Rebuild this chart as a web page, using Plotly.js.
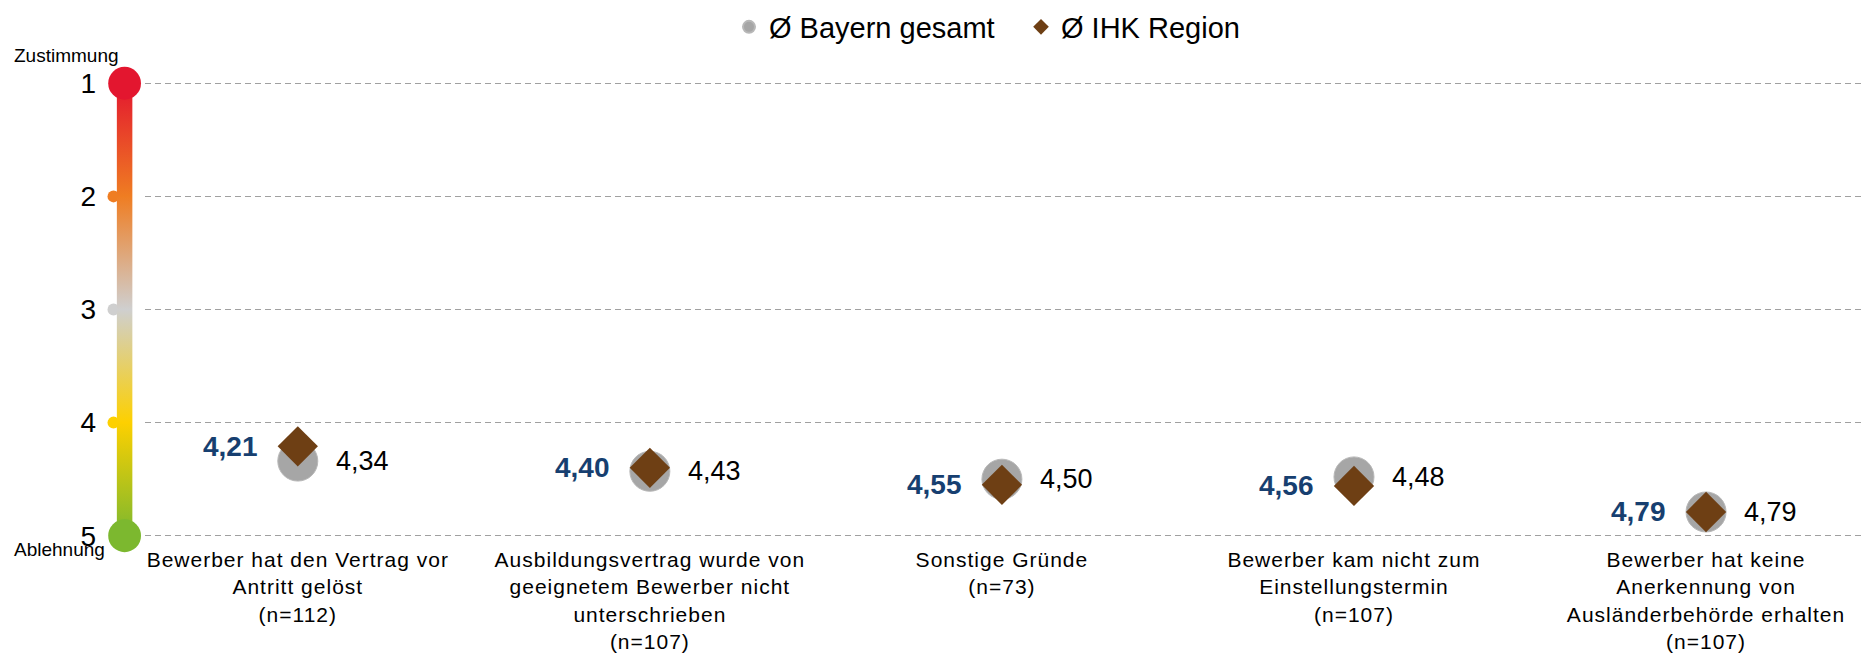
<!DOCTYPE html>
<html>
<head>
<meta charset="utf-8">
<script src="https://cdn.plot.ly/plotly-3.0.1.min.js"></script>
<style>
html,body{margin:0;padding:0;background:#fff;}
#chart{width:1865px;height:654px;}
#chart g.xtick text{letter-spacing:1px;}
</style>
</head>
<body>
<div id="chart"></div>
<script>
// ---- data ----
const categories = [
  "Bewerber hat den Vertrag vor<br>Antritt gelöst<br>(n=112)",
  "Ausbildungsvertrag wurde von<br>geeignetem Bewerber nicht<br>unterschrieben<br>(n=107)",
  "Sonstige Gründe<br>(n=73)",
  "Bewerber kam nicht zum<br>Einstellungstermin<br>(n=107)",
  "Bewerber hat keine<br>Anerkennung von<br>Ausländerbehörde erhalten<br>(n=107)"
];
const bayernValues = [4.34, 4.43, 4.50, 4.48, 4.79];
const ihkValues = [4.21, 4.40, 4.55, 4.56, 4.79];
const seriesNames = ["Ø Bayern gesamt", "Ø IHK Region"];
const scaleTicks = [1, 2, 3, 4, 5];
const scaleTickLabels = ["1", "2", "3", "4", "5"];
const scaleEnds = ["Zustimmung", "Ablehnung"];

// ---- layout geometry (styling) ----
const W = 1865, H = 654;
const ml = 145, mr = 3, mt = 81, mb = 116;
const pw = W - ml - mr, ph = H - mt - mb;
const yLo = 0.98, yHi = 5.02;
const FONT = "'Liberation Sans', Arial, Helvetica, sans-serif";

function yPix(v) { return mt + (v - yLo) / (yHi - yLo) * ph; }
function pxToPaperX(px) { return (px - ml) / pw; }
function pyToPaperY(py) { return 1 - (py - mt) / ph; }
function fmt(v) { return v.toFixed(2).replace('.', ','); }

// gradient scale bar as SVG image
const imgX0 = 90, imgY0 = 45, imgW = 70, imgH = 530;
const barCx = 124.6 - imgX0, barW = 15.5, endR = 16.4, dotCx = 113.5 - imgX0, dotR = 6;
const stopColors = ["#e3162f", "#ef7d22", "#cfcfcf", "#fdd000", "#7cb82f"];
const y1 = yPix(scaleTicks[0]) - imgY0, y5 = yPix(scaleTicks[4]) - imgY0;
let svg = `<svg xmlns="http://www.w3.org/2000/svg" width="${imgW}" height="${imgH}" viewBox="0 0 ${imgW} ${imgH}">`;
svg += `<defs><linearGradient id="g" gradientUnits="userSpaceOnUse" x1="0" y1="${y1}" x2="0" y2="${y5}">`;
stopColors.forEach((c, i) => { svg += `<stop offset="${i / 4}" stop-color="${c}"/>`; });
svg += `</linearGradient></defs>`;
[1, 2, 3].forEach(i => {
  const cy = yPix(scaleTicks[i]) - imgY0;
  svg += `<circle cx="${dotCx}" cy="${cy}" r="${dotR}" fill="${stopColors[i]}"/>`;
});
svg += `<rect x="${barCx - barW / 2}" y="${y1}" width="${barW}" height="${y5 - y1}" fill="url(#g)"/>`;
svg += `<circle cx="${barCx}" cy="${y1}" r="${endR}" fill="${stopColors[0]}"/>`;
svg += `<circle cx="${barCx}" cy="${y5}" r="${endR}" fill="${stopColors[4]}"/>`;
svg += `</svg>`;
const svgSrc = 'data:image/svg+xml;charset=utf-8,' + encodeURIComponent(svg);

const xIdx = categories.map((_, i) => i);

const traces = [
  {
    type: 'scatter', mode: 'markers', name: seriesNames[0],
    x: xIdx, y: bayernValues, cliponaxis: false,
    marker: { symbol: 'circle', size: 40, color: '#a6a6a6', line: { width: 1, color: '#b8b8b8' } },
    hoverinfo: 'skip'
  },
  {
    type: 'scatter', mode: 'markers', name: seriesNames[1],
    x: xIdx, y: ihkValues, cliponaxis: false,
    marker: { symbol: 'diamond', size: 31, color: '#6e3f14', line: { width: 0 } },
    hoverinfo: 'skip'
  }
];

const annotations = [];
ihkValues.forEach((v, i) => {
  annotations.push({
    x: i, y: v, xref: 'x', yref: 'y', text: '<b>' + fmt(v) + '</b>',
    showarrow: false, xanchor: 'right', yanchor: 'middle', xshift: -38,
    font: { family: FONT, size: 28, color: '#173f70' }
  });
});
bayernValues.forEach((v, i) => {
  annotations.push({
    x: i, y: v, xref: 'x', yref: 'y', text: fmt(v),
    showarrow: false, xanchor: 'left', yanchor: 'middle', xshift: 36,
    font: { family: FONT, size: 27, color: '#000' }
  });
});
annotations.push({
  xref: 'paper', yref: 'paper', x: pxToPaperX(12), y: pyToPaperY(56),
  xanchor: 'left', yanchor: 'middle', showarrow: false, text: scaleEnds[0],
  font: { family: FONT, size: 19, color: '#000' }
});
annotations.push({
  xref: 'paper', yref: 'paper', x: pxToPaperX(12), y: pyToPaperY(549),
  xanchor: 'left', yanchor: 'middle', showarrow: false, text: scaleEnds[1],
  font: { family: FONT, size: 19, color: '#000' }
});

const layout = {
  width: W, height: H,
  margin: { l: ml, r: mr, t: mt, b: mb, pad: 0 },
  paper_bgcolor: '#fff', plot_bgcolor: '#fff',
  font: { family: FONT, color: '#000' },
  showlegend: true,
  legend: {
    orientation: 'h', xref: 'container', yref: 'container',
    x: 729 / W, xanchor: 'left', y: 1 - 27 / H, yanchor: 'middle',
    font: { family: FONT, size: 29, color: '#000' },
    itemsizing: 'constant', bgcolor: 'rgba(0,0,0,0)', entrywidth: 247
  },
  xaxis: {
    range: [-0.434, 4.443], tickmode: 'array', tickvals: xIdx, ticktext: categories,
    showgrid: false, zeroline: false, showline: false, ticks: '',
    tickfont: { family: FONT, size: 21, color: '#000' }, ticklabelstandoff: 7,
    fixedrange: true
  },
  yaxis: {
    range: [yHi, yLo], tickmode: 'array', tickvals: scaleTicks, ticktext: scaleTickLabels,
    showgrid: true, gridcolor: '#a0a0a0', gridwidth: 1, griddash: '6px,4px',
    zeroline: false, showline: false, ticks: '',
    tickfont: { family: FONT, size: 28, color: '#000' }, ticklabelstandoff: 48,
    fixedrange: true
  },
  images: [{
    source: svgSrc, xref: 'paper', yref: 'paper',
    x: pxToPaperX(imgX0), y: pyToPaperY(imgY0), sizex: imgW / pw, sizey: imgH / ph,
    xanchor: 'left', yanchor: 'top', sizing: 'stretch', layer: 'above'
  }],
  annotations: annotations
};

Plotly.newPlot('chart', traces, layout, { displayModeBar: false, staticPlot: true });
</script>
</body>
</html>
